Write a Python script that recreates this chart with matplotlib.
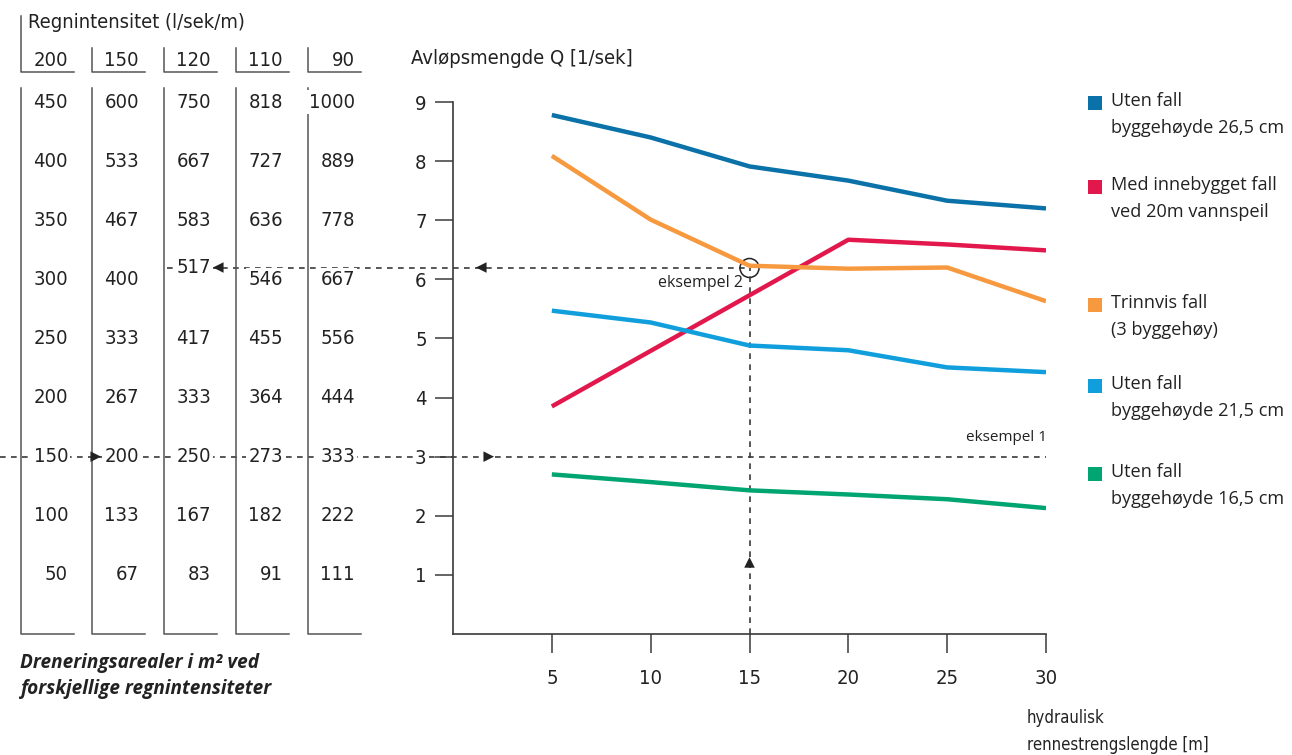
import matplotlib
matplotlib.use('Agg')
import matplotlib.pyplot as plt
from matplotlib import font_manager
from matplotlib.transforms import blended_transform_factory
from matplotlib.patches import Circle

# --- data ---
lengths = [5, 10, 15, 20, 25, 30]
q_uten_265 = [8.78, 8.40, 7.91, 7.67, 7.33, 7.20]
q_med_fall = [3.85, 4.79, 5.73, 6.67, 6.59, 6.49]
q_trinnvis = [8.09, 7.01, 6.23, 6.18, 6.20, 5.63]
q_uten_215 = [5.47, 5.27, 4.88, 4.80, 4.51, 4.43]
q_uten_165 = [2.70, 2.57, 2.43, 2.36, 2.28, 2.13]

series_labels = ['Uten fall\nbyggehøyde 26,5 cm',
                 'Med innebygget fall\nved 20m vannspeil',
                 'Trinnvis fall\n(3 byggehøy)',
                 'Uten fall\nbyggehøyde 21,5 cm',
                 'Uten fall\nbyggehøyde 16,5 cm']
series_colors = ['#0a72a9', '#e2184c', '#f7993f', '#109fdc', '#00a571']

intensities = ['200', '150', '120', '110', '90']
q_rows = [9, 8, 7, 6, 5, 4, 3, 2, 1]
areas = [
    ['450', '400', '350', '300', '250', '200', '150', '100', '50'],
    ['600', '533', '467', '400', '333', '267', '200', '133', '67'],
    ['750', '667', '583', '', '417', '333', '250', '167', '83'],
    ['818', '727', '636', '546', '455', '364', '273', '182', '91'],
    ['1000', '889', '778', '667', '556', '444', '333', '222', '111'],
]
ex1_q = 3
ex2_q = 6.2
ex2_len = 15
ex2_area = '517'

# pick a narrow face for the numbers if one is installed
fonts = font_manager.fontManager.ttflist
names = {f.name for f in fonts}
NUM_STRETCH = 'normal'
if 'Liberation Sans Narrow' in names:
    NUM = ['Liberation Sans Narrow', 'DejaVu Sans']
    NUM_SIZE = 16
elif any(f.name == 'DejaVu Sans' and f.stretch == 'condensed' for f in fonts):
    NUM = ['DejaVu Sans']
    NUM_STRETCH = 'condensed'
    NUM_SIZE = 14.5
else:
    NUM = ['Roboto', 'DejaVu Sans']
    NUM_SIZE = 15.3
TXT = ['Open Sans', 'DejaVu Sans']
LC = '#3a3a3a'
TC = '#222222'

W, H = 1292, 755
fig = plt.figure(figsize=(W / 100, H / 100), dpi=100)

# overlay in pixel coordinates (y downward)
ov = fig.add_axes([0, 0, 1, 1])
ov.set_xlim(0, W)
ov.set_ylim(H, 0)
ov.axis('off')

# chart axes
ax = fig.add_axes([453 / W, (H - 634) / H, 593 / W, 532 / H])
ax.set_xlim(0, 30)
ax.set_ylim(0, 9)
ax.patch.set_alpha(0)
for s in ['top', 'right']:
    ax.spines[s].set_visible(False)
for s in ['left', 'bottom']:
    ax.spines[s].set_color(LC)
    ax.spines[s].set_linewidth(1.2)
ax.set_xticks(lengths)
ax.set_yticks(sorted(q_rows))
ax.tick_params(axis='y', direction='out', length=13, width=1.1, color=LC, pad=6)
ax.tick_params(axis='x', direction='out', length=14, width=1.1, color=LC, pad=11)
for lab in ax.get_xticklabels() + ax.get_yticklabels():
    lab.set_fontfamily(NUM)
    lab.set_fontstretch(NUM_STRETCH)
    lab.set_fontsize(NUM_SIZE)
    lab.set_color(TC)
for lab in ax.get_yticklabels():
    lab.set_bbox(dict(fc='white', ec='none', pad=1))

all_series = [q_uten_265, q_med_fall, q_trinnvis, q_uten_215, q_uten_165]
for vals, col in zip(all_series, series_colors):
    ax.plot(lengths, vals, color=col, lw=3.2, solid_capstyle='butt', zorder=3)

numkw = dict(fontfamily=NUM, fontstretch=NUM_STRETCH, fontsize=NUM_SIZE, color=TC)

# blended: x in pixels, y in Q units
bt = blended_transform_factory(ov.transData, ax.transData)

col_x = [21, 92, 164, 236, 308]
col_w = 53
# header
ov.text(28, 22, 'Regnintensitet (l/sek/m)', va='center', ha='left', **numkw)
for i, (cx, lab) in enumerate(zip(col_x, intensities)):
    top = 16 if i == 0 else 48
    ov.plot([cx, cx, cx + col_w], [top, 72, 72], color='#555555', lw=1.1)
    ov.text(cx + 47, 60, lab, ha='right', va='center', **numkw)

# body columns
for i, (cx, col_vals) in enumerate(zip(col_x, areas)):
    ov.plot([cx, cx, cx + col_w], [88, 634, 634], color='#555555', lw=1.1)
    for q, v in zip(q_rows, col_vals):
        if v == '':
            continue
        ov.text(cx + 47, q, v, transform=bt, ha='right', va='center',
                bbox=dict(fc='white', ec='none', pad=1.5), **numkw)
ov.text(col_x[2] + 47, ex2_q, ex2_area, transform=bt, ha='right', va='center',
        bbox=dict(fc='white', ec='none', pad=1.5), **numkw)

dash = (0, (3.4, 3.2))
ex2_px = ax.transData.transform((ex2_len, 0))[0]
arrow = dict(arrowstyle='-|>', color=TC, lw=0, mutation_scale=19, shrinkA=0, shrinkB=0)

# eksempel 1
ov.plot([0, W - 246], [ex1_q, ex1_q], transform=bt, color=LC, lw=1.2, ls=dash, zorder=0)
for tip in [101, 494]:
    ov.annotate('', xy=(tip, ex1_q), xytext=(tip - 12, ex1_q), xycoords=bt, textcoords=bt,
                arrowprops=arrow)
ax.text(30.05, ex1_q + 0.2, 'eksempel 1', fontfamily=TXT, fontsize=11, color=TC,
        ha='right', va='bottom')

# eksempel 2
ov.plot([167, ex2_px], [ex2_q, ex2_q], transform=bt, color=LC, lw=1.2, ls=dash, zorder=0)
ax.plot([ex2_len, ex2_len], [0, ex2_q], color=LC, lw=1.2, ls=dash, zorder=2)
for tip in [213, 476]:
    ov.annotate('', xy=(tip, ex2_q), xytext=(tip + 12, ex2_q), xycoords=bt, textcoords=bt,
                arrowprops=arrow)
ax.annotate('', xy=(ex2_len, 1.3), xytext=(ex2_len, 1.1), arrowprops=arrow)
ov.add_patch(Circle((ex2_px, 268), 9.5, fill=False, ec=TC, lw=1.1, zorder=5))
ax.text(ex2_len - 0.35, ex2_q - 0.12, 'eksempel 2', fontfamily=TXT, fontsize=11.5,
        color=TC, ha='right', va='top')

# axis titles
ov.text(411, 58, 'Avløpsmengde Q [1/sek]', ha='left', va='center', **numkw)
ov.text(1027, 718, 'hydraulisk', fontfamily=NUM, fontstretch=NUM_STRETCH,
        fontsize=NUM_SIZE - 2.5, color=TC, ha='left', va='center')
ov.text(1027, 745, 'rennestrengslengde [m]', fontfamily=NUM, fontstretch=NUM_STRETCH,
        fontsize=NUM_SIZE - 2.5, color=TC, ha='left', va='center')

# caption
ov.text(20, 663, 'Dreneringsarealer i m² ved', fontfamily=TXT, fontsize=13.7,
        fontweight='bold', fontstyle='italic', color=TC, ha='left', va='center')
ov.text(20, 689, 'forskjellige regnintensiteter', fontfamily=TXT, fontsize=13.7,
        fontweight='bold', fontstyle='italic', color=TC, ha='left', va='center')

# legend
leg_y = [101, 185, 303, 384, 472]
for y, lab, col in zip(leg_y, series_labels, series_colors):
    ov.add_patch(plt.Rectangle((1088, y - 5), 14, 14, color=col, lw=0))
    l1, l2 = lab.split('\n')
    ov.text(1111, y, l1, fontfamily=TXT, fontsize=13.1, color=TC, ha='left', va='center')
    ov.text(1111, y + 27, l2, fontfamily=TXT, fontsize=13.1, color=TC, ha='left', va='center')

fig.savefig('out.png', dpi=100)
